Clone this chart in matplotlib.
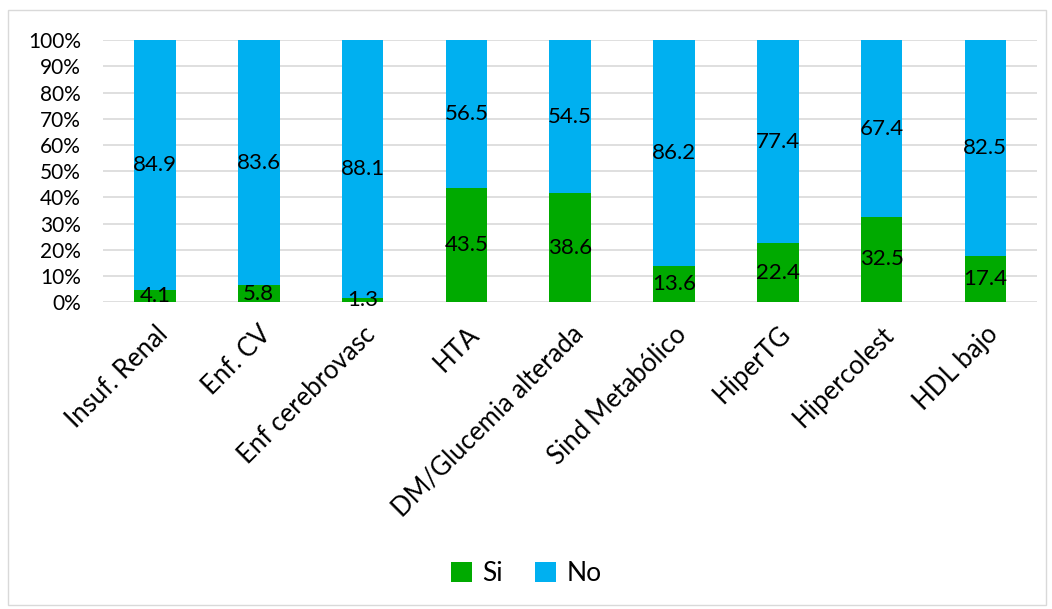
import matplotlib
matplotlib.use("Agg")
import matplotlib.pyplot as plt
import numpy as np
from matplotlib.patches import Rectangle

categories = ["Insuf. Renal", "Enf. CV", "Enf cerebrovasc", "HTA", "DM/Glucemia alterada",
              "Sind Metabólico", "HiperTG", "Hipercolest", "HDL bajo"]
si = [4.1, 5.8, 1.3, 43.5, 38.6, 13.6, 22.4, 32.5, 17.4]
no = [84.9, 83.6, 88.1, 56.5, 54.5, 86.2, 77.4, 67.4, 82.5]
yticklabels = ["0%", "10%", "20%", "30%", "40%", "50%", "60%", "70%", "80%", "90%", "100%"]

plt.rcParams['font.family'] = ['Lato', 'DejaVu Sans']

si_a = np.array(si)
no_a = np.array(no)
tot = si_a + no_a
si_p = si_a / tot * 100
no_p = no_a / tot * 100

fig = plt.figure(figsize=(10.52, 6.09), dpi=100)
ax = fig.add_axes([0.098, 0.504, 0.888, 0.430])
x = np.arange(len(categories))
green = "#00AA00"
blue = "#00B0F0"
b1 = ax.bar(x, si_p, width=0.4, color=green, label="Si", zorder=3)
b2 = ax.bar(x, no_p, width=0.4, bottom=si_p, color=blue, label="No", zorder=3)
ax.bar_label(b1, labels=[f"{v:.1f}" for v in si], label_type='center', fontsize=16, color='black')
ax.bar_label(b2, labels=[f"{v:.1f}" for v in no], label_type='center', fontsize=16, color='black')

ax.set_ylim(0, 100)
ax.set_xlim(-0.5, len(categories) - 0.5)
ax.set_yticks(np.arange(0, 101, 10))
ax.set_yticklabels(yticklabels, fontsize=15)
ax.set_xticks(x)
ax.set_xticklabels(categories, rotation=45, ha='right', rotation_mode='anchor', fontsize=18.5)
ax.tick_params(axis='both', length=0)
ax.tick_params(axis='x', pad=14)
ax.tick_params(axis='y', pad=16)
for s in ax.spines.values():
    s.set_visible(False)
ax.yaxis.grid(True, color="#D9D9D9", linewidth=1.2, zorder=0)
ax.set_axisbelow(True)

leg = fig.legend(handles=[b1, b2], labels=["Si", "No"], loc='center', bbox_to_anchor=(0.5, 0.058),
                 ncol=2, frameon=False, fontsize=19, handlelength=0.8, handleheight=0.8,
                 handletextpad=0.4, columnspacing=1.2)

fig.patches.append(Rectangle((8/1052, 1 - 605/609), (1046-8)/1052, (605-10)/609, transform=fig.transFigure,
                             fill=False, edgecolor="#D9D9D9", linewidth=1.0))

fig.savefig("out.png", dpi=100)
